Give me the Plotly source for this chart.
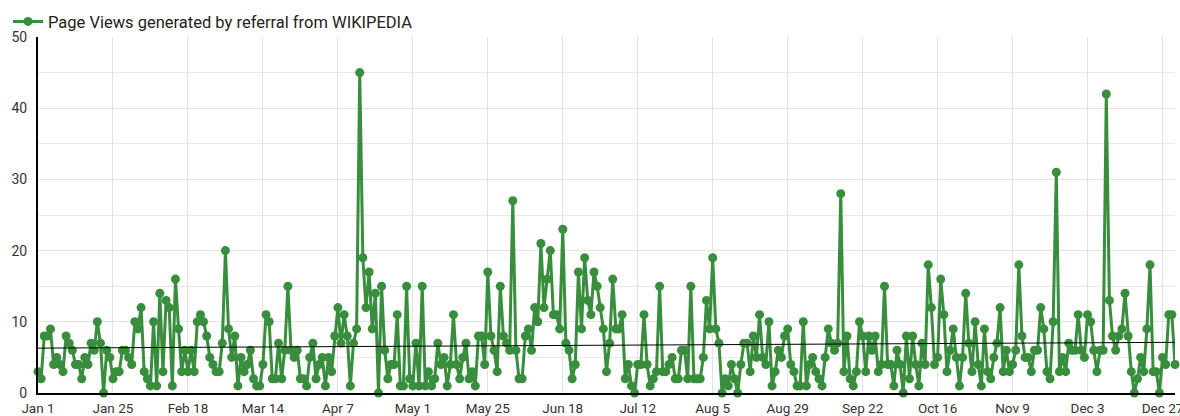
import numpy as np
import pandas as pd
import plotly.graph_objects as go

# ---- data ----
year = 2019
page_views = [
    3, 2, 8, 8, 9, 4, 5, 4, 3, 8,
    7, 6, 4, 4, 2, 5, 4, 7, 6, 10,
    7, 0, 6, 5, 2, 3, 3, 6, 6, 5,
    4, 10, 9, 12, 3, 2, 1, 10, 1, 14,
    3, 13, 12, 1, 16, 9, 3, 6, 3, 6,
    3, 10, 11, 10, 8, 5, 4, 3, 3, 7,
    20, 9, 5, 8, 1, 5, 3, 4, 6, 2,
    1, 1, 4, 11, 10, 2, 2, 7, 2, 6,
    15, 6, 5, 6, 2, 2, 1, 5, 7, 2,
    4, 5, 1, 5, 3, 8, 12, 7, 11, 8,
    1, 7, 9, 45, 19, 12, 17, 9, 14, 0,
    15, 6, 2, 4, 4, 11, 1, 1, 15, 2,
    1, 7, 1, 15, 1, 3, 1, 2, 7, 4,
    5, 1, 4, 11, 4, 2, 5, 7, 2, 3,
    1, 8, 8, 4, 17, 8, 6, 3, 15, 8,
    7, 6, 27, 6, 2, 2, 8, 9, 6, 12,
    10, 21, 12, 16, 20, 11, 11, 9, 23, 7,
    6, 2, 4, 17, 9, 19, 13, 11, 17, 15,
    12, 9, 3, 7, 16, 9, 9, 11, 2, 4,
    1, 0, 4, 4, 11, 4, 1, 2, 3, 15,
    3, 3, 4, 5, 2, 2, 6, 6, 2, 15,
    2, 2, 2, 5, 13, 9, 19, 9, 7, 0,
    2, 1, 4, 2, 0, 4, 7, 7, 3, 8,
    5, 11, 5, 4, 10, 1, 3, 6, 5, 8,
    9, 4, 3, 1, 1, 10, 1, 4, 5, 3,
    2, 1, 5, 9, 7, 6, 7, 28, 3, 8,
    2, 1, 3, 10, 8, 3, 8, 6, 8, 3,
    4, 15, 4, 4, 1, 6, 4, 0, 8, 2,
    8, 4, 1, 7, 4, 18, 12, 4, 5, 16,
    11, 3, 6, 9, 5, 1, 5, 14, 7, 3,
    10, 4, 1, 9, 3, 2, 5, 7, 12, 3,
    6, 3, 4, 6, 18, 8, 5, 5, 3, 6,
    6, 12, 9, 3, 2, 10, 31, 3, 5, 3,
    7, 6, 6, 11, 6, 5, 11, 10, 6, 3,
    6, 6, 42, 13, 8, 6, 8, 9, 14, 8,
    3, 0, 2, 5, 3, 9, 18, 3, 3, 0,
    5, 4, 11, 11, 4,
]
tick_labels = ["Jan 1", "Jan 25", "Feb 18", "Mar 14", "Apr 7", "May 1", "May 25",
               "Jun 18", "Jul 12", "Aug 5", "Aug 29", "Sep 22", "Oct 16", "Nov 9",
               "Dec 3", "Dec 27"]
series_name = "Page Views generated by referral from WIKIPEDIA"

dates = pd.date_range(f"{year}-01-01", periods=len(page_views), freq="D")
tick_vals = pd.date_range(f"{year}-01-01", periods=len(tick_labels), freq="24D")

# linear trend
idx = np.arange(len(page_views))
slope, intercept = np.polyfit(idx, np.array(page_views, dtype=float), 1)
trend = intercept + slope * idx

GREEN = "#388E3C"
fig = go.Figure()
fig.add_trace(go.Scatter(
    x=dates, y=page_views, mode="lines+markers", name=series_name,
    line=dict(color=GREEN, width=3),
    marker=dict(color=GREEN, size=9),
    cliponaxis=False,
))
fig.add_trace(go.Scatter(
    x=[dates[0], dates[-1]], y=[trend[0], trend[-1]], mode="lines",
    line=dict(color="#000000", width=1), showlegend=False, hoverinfo="skip",
))

fig.update_layout(
    width=1180, height=416,
    margin=dict(l=38, r=5, t=37, b=23, autoexpand=False),
    paper_bgcolor="white", plot_bgcolor="white",
    font=dict(family="Roboto, Arial, sans-serif", size=14, color="#333333"),
    showlegend=True,
    legend=dict(orientation="h", x=0.0068, y=0.99, xref="container", yref="container",
                xanchor="left", yanchor="top", font=dict(size=16.5, color="#222222"),
                itemwidth=30, bgcolor="rgba(0,0,0,0)"),
)
fig.update_xaxes(
    type="date", range=[dates[0], dates[-1]],
    tickmode="array", tickvals=tick_vals, ticktext=tick_labels,
    showgrid=True, gridcolor="#e3e3e3", gridwidth=1,
    showline=True, linecolor="#000000", linewidth=2,
    ticks="", tickfont=dict(size=13.5, color="#333333"),
    ticklabeloverflow="allow", ticklabelstandoff=2,
    zeroline=False,
)
fig.update_yaxes(
    range=[0, 50], dtick=10, tick0=0,
    showgrid=True, gridcolor="#e3e3e3", gridwidth=1,
    minor=dict(dtick=5, showgrid=True, gridcolor="#e8e8e8", gridwidth=1),
    showline=True, linecolor="#000000", linewidth=2,
    zeroline=False, ticks="", tickfont=dict(size=14, color="#333333"),
    ticklabelstandoff=6,
)

fig.write_html("out.html", config={"displayModeBar": False},
               post_script="document.body.style.margin='0';")
